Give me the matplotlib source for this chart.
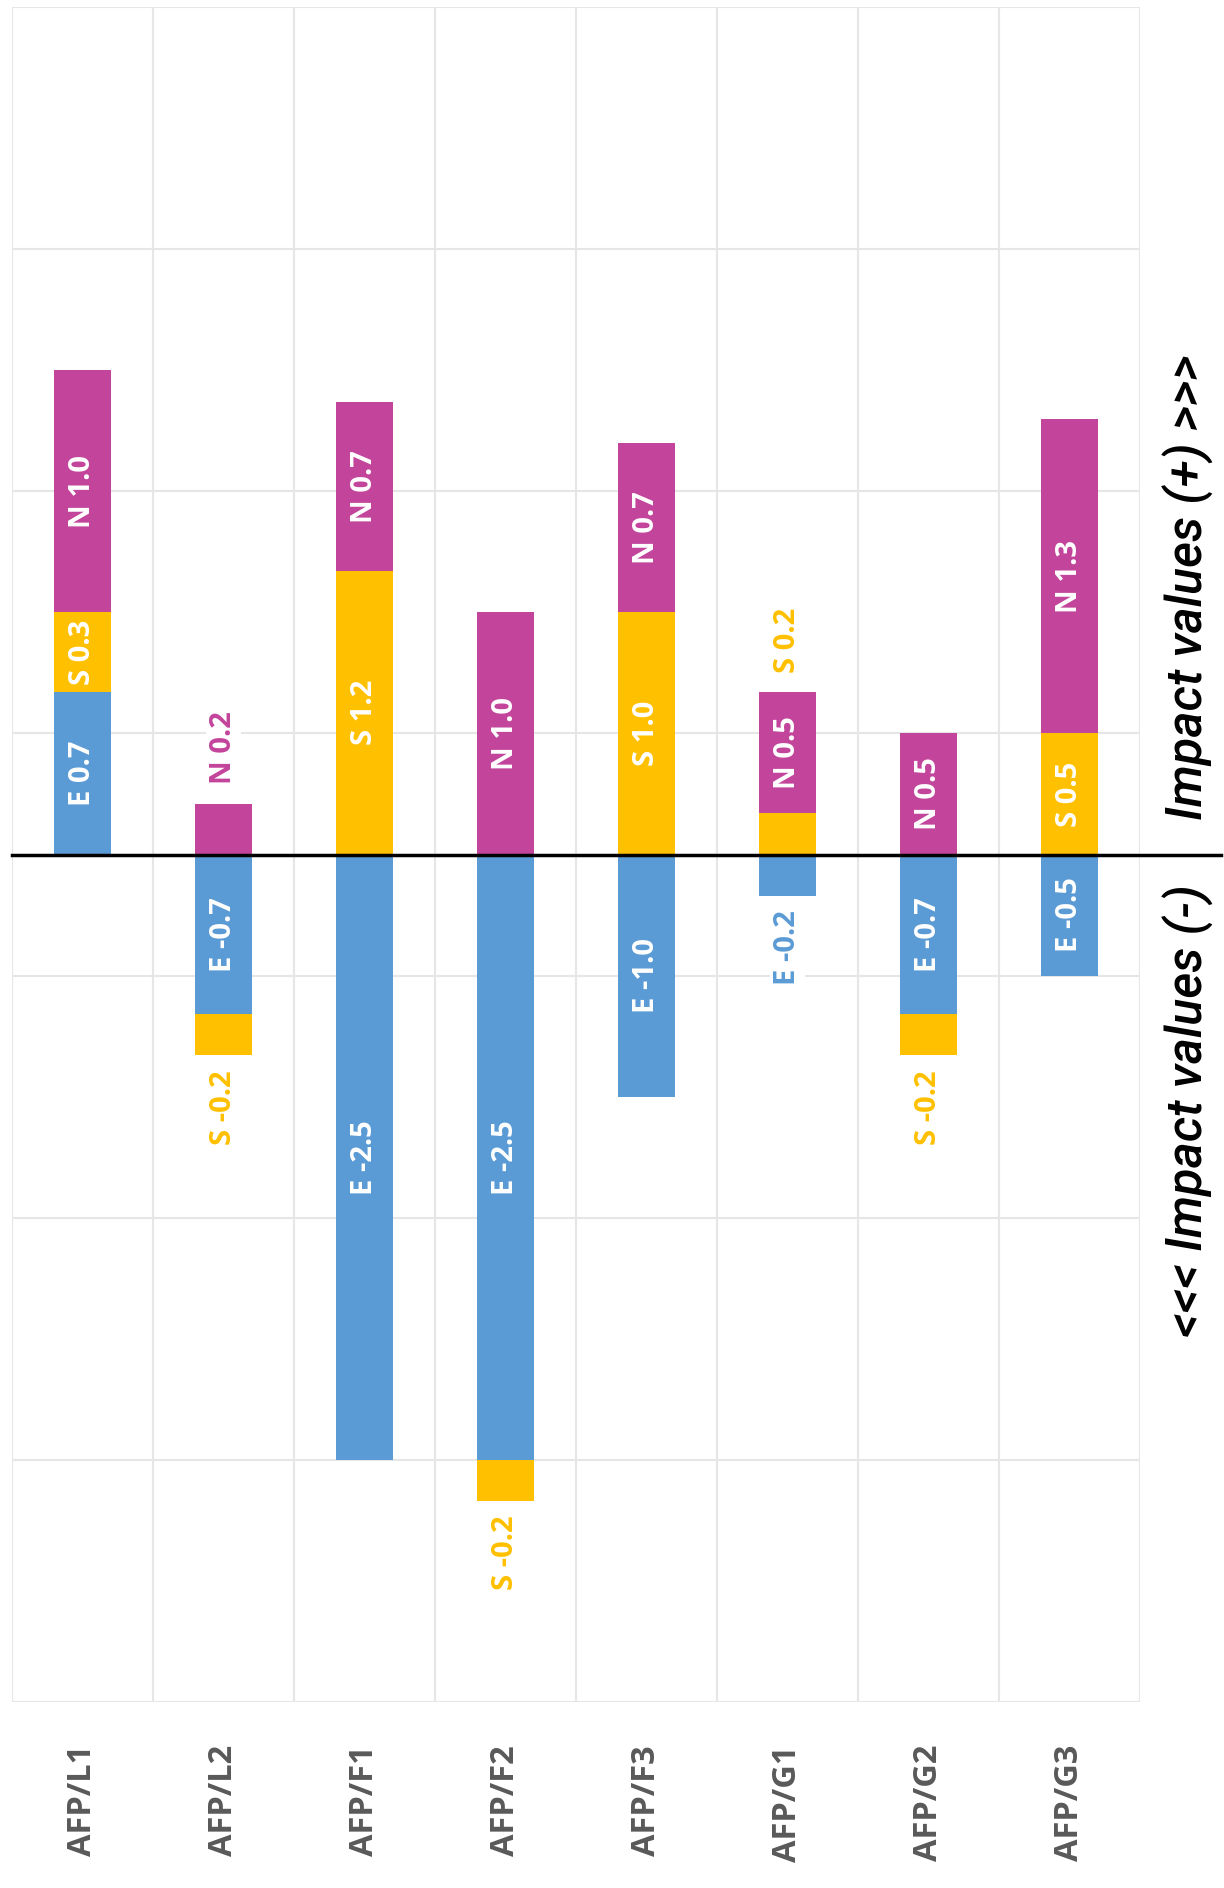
import numpy as np
import matplotlib.pyplot as plt

# categories and impact values per dimension (E, S, N)
categories = ['AFP/L1', 'AFP/L2', 'AFP/F1', 'AFP/F2', 'AFP/F3', 'AFP/G1', 'AFP/G2', 'AFP/G3']
pos_E = [0.67, 0.0, 0.0, 0.0, 0.0, 0.0, 0.0, 0.0]
pos_S = [0.33, 0.0, 1.17, 0.0, 1.0, 0.17, 0.0, 0.5]
pos_N = [1.0, 0.21, 0.7, 1.0, 0.7, 0.5, 0.5, 1.3]
neg_E = [0.0, -0.66, -2.5, -2.5, -1.0, -0.17, -0.66, -0.5]
neg_S = [0.0, -0.17, 0.0, -0.17, 0.0, 0.0, -0.17, 0.0]

BLUE = '#5B9BD5'
YELLOW = '#FFC000'
MAGENTA = '#C2449B'
GRID = '#E6E6E6'
LABEL = '#595959'

W, H = 1224, 1888
fig = plt.figure(figsize=(W / 100, H / 100), dpi=100)
ax = fig.add_axes([12 / W, 1 - 1702 / H, (1140 - 12) / W, (1702 - 7) / H])

x = np.arange(len(categories))
bw = 0.40

# stacked bars: positive side E -> S -> N, negative side E -> S
series = [
    ('E', pos_E, np.zeros(len(x)), BLUE),
    ('S', pos_S, np.array(pos_E), YELLOW),
    ('N', pos_N, np.array(pos_E) + np.array(pos_S), MAGENTA),
    ('E', neg_E, np.zeros(len(x)), BLUE),
    ('S', neg_S, np.array(neg_E), YELLOW),
]

for name, vals, base, col in series:
    vals = np.array(vals)
    ax.bar(x, vals, bw, bottom=base, color=col, zorder=3, linewidth=0)
    for i, v in enumerate(vals):
        if v == 0:
            continue
        txt = f'{name} {v:.1f}'
        if abs(v) >= 0.3:
            # label inside the segment
            ax.text(x[i], base[i] + v / 2, txt, rotation=90, ha='center', va='center',
                    color='white', fontsize=21, fontweight='bold', family='Open Sans', zorder=4)
        else:
            # small segment: label outside, past the bar end
            if v > 0:
                end = pos_E[i] + pos_S[i] + pos_N[i]
                va = 'bottom'
                off = 0.08
            else:
                end = neg_E[i] + neg_S[i]
                va = 'top'
                off = -0.06
            ax.text(x[i], end + off, txt, rotation=90, ha='center', va=va,
                    color=col, fontsize=21, fontweight='bold', family='Open Sans', zorder=4,
                    bbox=dict(facecolor='white', edgecolor='none', pad=2))

ax.set_xlim(-0.5, len(categories) - 0.5)
ax.set_ylim(-3.5, 3.5)

# grid: horizontal every 1 unit from -3.5, vertical between categories
for yy in np.arange(-3.5, 3.6, 1.0):
    ax.axhline(yy, color=GRID, lw=1.5, zorder=1)
for xx in np.arange(-0.5, len(categories), 1.0):
    ax.axvline(xx, color=GRID, lw=1.5, zorder=1)

# zero line runs past the plot area to the right
ax.plot([0, 1.072], [0.5, 0.5], transform=ax.transAxes, color='black', lw=2.5,
        clip_on=False, zorder=5)

for s in ax.spines.values():
    s.set_visible(False)
ax.set_yticks([])
ax.set_xticks(x)
ax.set_xticklabels(categories, rotation=90, color=LABEL, fontsize=23.5,
                   fontweight='bold', family='Open Sans')
ax.tick_params(axis='x', length=0, pad=31)

fig.text(1188 / W, 1 - 820 / H, 'Impact values (+) >>>', rotation=90, ha='center', va='bottom',
         fontsize=36, style='italic', fontweight='medium', family='Roboto', color='black')
fig.text(1188 / W, 1 - 884 / H, '<<< Impact values (-)', rotation=90, ha='center', va='top',
         fontsize=36, style='italic', fontweight='medium', family='Roboto', color='black')

fig.savefig('out.png', dpi=100, facecolor='white')
